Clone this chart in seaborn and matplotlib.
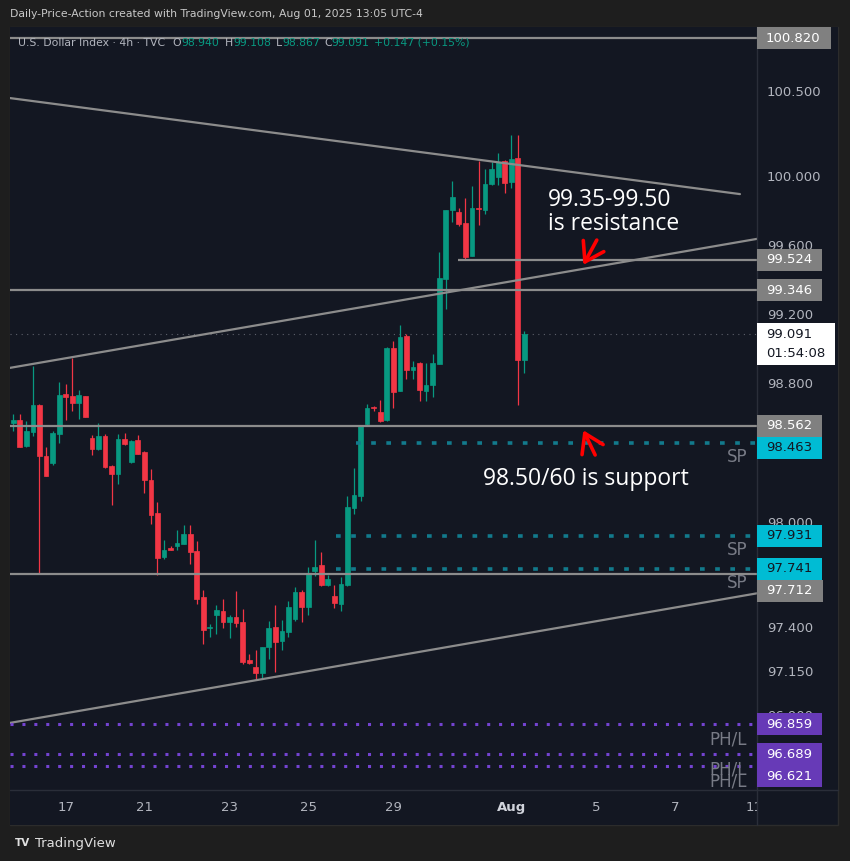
import numpy as np
import matplotlib
matplotlib.use("Agg")
import matplotlib.pyplot as plt
from matplotlib.patches import Rectangle
from matplotlib.lines import Line2D
from matplotlib.transforms import IdentityTransform
from matplotlib.ticker import NullLocator
import seaborn as sns

# ---------------- data: U.S. Dollar Index, 4h candles ----------------
opens = [98.578, 98.594, 98.445, 98.527, 98.681, 98.390, 98.350, 98.514, 98.745, 98.733,
         98.694, 98.733, 98.491, 98.428, 98.502, 98.331, 98.286, 98.485, 98.354, 98.479,
         98.411, 98.253, 98.059, 97.807, 97.858, 97.871, 97.886, 97.943, 97.846, 97.579,
         97.404, 97.476, 97.499, 97.436, 97.465, 97.436, 97.225, 97.185, 97.151, 97.294,
         97.408, 97.328, 97.379, 97.453, 97.607, 97.522, 97.727, 97.761, 97.647, 97.584,
         97.539, 97.647, 98.092, 98.160, 98.571, 98.669, 98.640, 98.594, 99.012, 98.762,
         99.081, 98.884, 98.925, 98.762, 98.797, 98.919, 99.412, 99.812, 99.800, 99.737,
         99.545, 99.824, 99.812, 99.963, 100.003, 100.096, 99.974, 100.113, 98.940]
highs = [98.629, 98.629, 98.588, 98.909, 98.685, 98.441, 98.532, 98.814, 98.803, 98.952,
         98.768, 98.735, 98.508, 98.577, 98.514, 98.337, 98.514, 98.519, 98.479, 98.508,
         98.417, 98.314, 98.126, 97.909, 97.871, 97.961, 97.991, 97.995, 97.903, 97.619,
         97.425, 97.533, 97.567, 97.476, 97.613, 97.510, 97.254, 97.282, 97.299, 97.442,
         97.533, 97.448, 97.556, 97.636, 97.619, 97.755, 97.909, 97.840, 97.704, 97.647,
         97.693, 98.160, 98.320, 98.566, 98.687, 98.675, 98.710, 99.014, 99.052, 99.145,
         99.093, 98.936, 98.927, 98.925, 98.977, 99.568, 99.814, 99.980, 99.824, 99.882,
         99.951, 100.096, 100.050, 100.090, 100.143, 100.102, 100.253, 100.253, 99.108]
lows = [98.532, 98.438, 98.438, 98.504, 97.715, 98.274, 98.339, 98.464, 98.594, 98.648,
        98.600, 98.610, 98.394, 98.422, 98.321, 98.105, 98.230, 98.451, 98.348, 98.400,
        98.173, 97.997, 97.706, 97.797, 97.847, 97.847, 97.881, 97.772, 97.539, 97.311,
        97.356, 97.368, 97.402, 97.345, 97.408, 97.202, 97.197, 97.117, 97.123, 97.230,
        97.157, 97.282, 97.351, 97.442, 97.436, 97.476, 97.698, 97.645, 97.641, 97.516,
        97.499, 97.645, 98.058, 98.132, 98.569, 98.646, 98.582, 98.588, 98.664, 98.760,
        98.832, 98.832, 98.704, 98.704, 98.727, 98.917, 99.238, 99.742, 99.719, 99.527,
        99.543, 99.725, 99.789, 99.957, 99.957, 99.911, 99.940, 98.681, 98.867]
closes = [98.594, 98.441, 98.531, 98.681, 98.390, 98.276, 98.519, 98.739, 98.729, 98.694,
          98.739, 98.613, 98.428, 98.502, 98.325, 98.286, 98.485, 98.457, 98.474, 98.400,
          98.253, 98.048, 97.803, 97.852, 97.852, 97.892, 97.943, 97.840, 97.567, 97.391,
          97.409, 97.505, 97.436, 97.465, 97.431, 97.214, 97.208, 97.151, 97.299, 97.402,
          97.322, 97.385, 97.522, 97.607, 97.522, 97.715, 97.755, 97.647, 97.681, 97.545,
          97.653, 98.098, 98.166, 98.565, 98.664, 98.664, 98.588, 99.012, 98.756, 99.075,
          98.884, 98.901, 98.768, 98.797, 98.925, 99.418, 99.812, 99.887, 99.731, 99.539,
          99.824, 99.818, 99.963, 100.050, 100.090, 99.969, 100.108, 98.940, 99.091]
prev_close = 98.944  # close of the previous session, base for the change figure

date_ticks = [8, 20, 33, 45, 58, 76, 89, 101, 113]
date_labels = ["17", "21", "23", "25", "29", "Aug", "5", "7", "11"]
price_ticks = [100.5, 100.0, 99.6, 99.2, 98.8, 98.0, 97.4, 97.15, 96.9]

level_lines = [100.820, 99.346, 98.562, 97.712]
resistance_level, resistance_from = 99.524, 67.9
support_levels = [98.463, 97.931, 97.741]
support_from = [52.3, 49.3, 49.3]
pivot_levels = [96.859, 96.689, 96.621]

trend_down = ([-0.5, 110.9], [100.467, 99.905])
trend_up_top = ([-0.5, 113.5], [98.896, 99.644])
trend_up_low = ([-0.5, 113.5], [96.866, 97.602])

last_price = 99.091
countdown = "01:54:08"

# ---------------- style ----------------
OUTER = "#1e1e1e"
BG = "#131722"
GREEN = "#089981"
RED = "#f23645"
LINE_GRAY = "#8c8c8c"
TEAL_DOT = "#127a8c"
PURPLE_DOT = "#7443d1"
AXIS_TXT = "#b2b5be"

sns.set_theme(style="dark", rc={"axes.facecolor": BG, "figure.facecolor": OUTER,
                                "axes.grid": False})
plt.rcParams["font.family"] = ["DejaVu Sans"]

W, H = 850, 861
fig = plt.figure(figsize=(W / 100, H / 100), dpi=100)
ID = IdentityTransform()


def box(x0, y0, x1, y1):
    return [x0 / W, 1 - y1 / H, (x1 - x0) / W, (y1 - y0) / H]


# chart panel frame
fig.add_artist(Rectangle((10, H - 825), 828, 798, transform=ID, facecolor=BG,
                         edgecolor="#2c2c2c", lw=1.0, zorder=-5))

ax = fig.add_axes(box(10, 27, 757, 790))
pax = fig.add_axes(box(757, 27, 838, 790))
tax = fig.add_axes(box(10, 790, 757, 825))

ymin, ymax = 96.487, 100.885
xmin, xmax = -0.5, 113.5
for a in (ax, pax):
    a.set_yscale("log")
    a.set_ylim(ymin, ymax)
ax.set_xlim(xmin, xmax)
tax.set_xlim(xmin, xmax)
tax.set_ylim(0, 1)
pax.set_xlim(0, 81)

for a in (ax, pax, tax):
    a.set_facecolor(BG)
    a.set_xticks([])
    a.set_yticks([])
    a.yaxis.set_minor_locator(NullLocator())
    a.xaxis.set_minor_locator(NullLocator())
    a.tick_params(which="both", length=0, labelleft=False, labelbottom=False)
    a.grid(False)
    for s in a.spines.values():
        s.set_visible(False)

# ---------------- candles ----------------
x = np.arange(len(opens))
o, h, l, c = (np.array(v) for v in (opens, highs, lows, closes))
cols = np.where(c >= o, GREEN, RED)
ax.vlines(x, l, h, colors=cols, lw=0.9, zorder=3)
ax.bar(x, np.abs(c - o), bottom=np.minimum(o, c), width=0.72, color=cols,
       edgecolor=cols, linewidth=0.5, zorder=4)

# ---------------- drawings ----------------
for lv in level_lines:
    ax.axhline(lv, color=LINE_GRAY, lw=1.6, zorder=5)
ax.hlines(resistance_level, resistance_from, xmax, color=LINE_GRAY, lw=1.6, zorder=5)

for tx, ty in (trend_down, trend_up_top, trend_up_low):
    sns.lineplot(x=tx, y=ty, ax=ax, color=LINE_GRAY, lw=1.6, zorder=5)

ax.axhline(last_price, color="#5d606b", lw=0.8, ls=(0, (1, 4)), zorder=2)

for lv, x0 in zip(support_levels, support_from):
    ax.hlines(lv, x0, xmax, color=TEAL_DOT, lw=2.6, linestyles=[(0, (1.3, 2.9))], zorder=5)
    ax.annotate("SP", xy=(112.0, lv), xytext=(0, -10), textcoords="offset points",
                ha="right", va="center", color="#787b86", fontsize=12, zorder=6)
for lv in pivot_levels:
    ax.hlines(lv, xmin, xmax, color=PURPLE_DOT, lw=2.2, linestyles=[(0, (1.0, 2.9))], zorder=5)
    ax.annotate("PH/L", xy=(112.0, lv), xytext=(0, -11), textcoords="offset points",
                ha="right", va="center", color="#787b86", fontsize=12, zorder=6)

# commentary
note_kw = dict(color="white", fontsize=16.5, family=["Open Sans", "DejaVu Sans"],
               va="baseline", ha="left", zorder=7)
ax.text(81.6, 99.837, "99.35-99.50", **note_kw)
ax.text(81.6, 99.696, "is resistance", **note_kw)
ax.text(71.7, 98.223, "98.50/60 is support", **note_kw)

arrow_kw = dict(arrowstyle="->,head_length=0.65,head_width=0.42", color="#ff0000",
                lw=2.6, mutation_scale=20, shrinkA=0, shrinkB=0)
ax.annotate("", xy=(87.0, 99.493), xytext=(89.05, 99.637), arrowprops=arrow_kw, zorder=7)
ax.annotate("", xy=(87.0, 98.536), xytext=(88.8, 98.394), arrowprops=arrow_kw, zorder=7)

# ---------------- price scale ----------------
for p in price_ticks:
    pax.text(10, p, f"{p:.3f}", color=AXIS_TXT, fontsize=9.5, va="center", ha="left",
             zorder=1)

tags = [(lv, "#808080", "white") for lv in level_lines + [resistance_level]]
tags += [(lv, "#00bcd4", BG) for lv in support_levels]
tags += [(lv, "#673ab7", "white") for lv in pivot_levels]
tags += [(last_price, "white", BG)]
tags.sort(key=lambda t: -t[0])

renderer = fig.canvas.get_renderer()
prev_bottom = None
for lv, fc, tc in tags:
    yc = ax.transData.transform((0, lv))[1]
    if prev_bottom is not None and yc + 11 > prev_bottom:
        yc = prev_bottom - 11
    is_last = lv == last_price
    t = fig.text(766, yc, f"{lv:.3f}", transform=ID, color=tc, fontsize=9.5,
                 va="center", ha="left", zorder=12)
    width = t.get_window_extent(renderer).width
    height = 22
    bottom = yc - 11
    if is_last:
        t2 = fig.text(766, yc - 19, countdown, transform=ID, color=tc, fontsize=9.5,
                      va="center", ha="left", zorder=12)
        width = max(width, t2.get_window_extent(renderer).width)
        height = 42
        bottom = yc + 11 - height
    fig.add_artist(Rectangle((757, bottom), width + 19, height, transform=ID,
                             facecolor=fc, edgecolor="none", zorder=11))
    prev_bottom = bottom

# ---------------- time scale ----------------
for pos, lab in zip(date_ticks, date_labels):
    bold = lab == "Aug"
    tax.text(pos, 0.5, lab, ha="center", va="center", fontsize=9.5,
             color="#d1d4dc" if bold else AXIS_TXT,
             fontweight="bold" if bold else "normal", clip_on=True)

# separators
fig.add_artist(Line2D([757, 757], [H - 825, H - 27], transform=ID, color="#2a2e39",
                      lw=1.0, zorder=10))
fig.add_artist(Line2D([10, 838], [H - 790, H - 790], transform=ID, color="#2a2e39",
                      lw=1.0, zorder=10))

# ---------------- header, legend, footer ----------------
fig.text(10, H - 14, "Daily-Price-Action created with TradingView.com, Aug 01, 2025 13:05 UTC-4",
         transform=ID, color="#c8c8c8", fontsize=7.8, va="center", ha="left")

leg_y = H - 42.5
fig.text(18, leg_y, "U.S. Dollar Index · 4h · TVC", transform=ID, color=AXIS_TXT,
         fontsize=7.8, va="center", zorder=12)
legend_parts = [("O", 172, f"{opens[-1]:.3f}", 181.5), ("H", 225, f"{highs[-1]:.3f}", 233),
                ("L", 275.5, f"{lows[-1]:.3f}", 282.5), ("C", 324, f"{closes[-1]:.3f}", 331.5)]
for letter, lx, val, vx in legend_parts:
    fig.text(lx, leg_y, letter, transform=ID, color=AXIS_TXT, fontsize=7.8, va="center",
             zorder=12)
    fig.text(vx, leg_y, val, transform=ID, color=GREEN, fontsize=7.8, va="center", zorder=12)
change = closes[-1] - prev_close
fig.text(374, leg_y, f"+{change:.3f} (+{change / prev_close * 100:.2f}%)", transform=ID,
         color=GREEN, fontsize=7.8, va="center", zorder=12)

fig.text(15, H - 843, "TV", transform=ID, color="#e0e0e0", fontsize=7.5, fontweight="bold",
         va="center", ha="left")
fig.text(35, H - 843, "TradingView", transform=ID, color="#e0e0e0", fontsize=9.5,
         va="center", ha="left")

fig.savefig("out.png", dpi=100, facecolor=OUTER)
